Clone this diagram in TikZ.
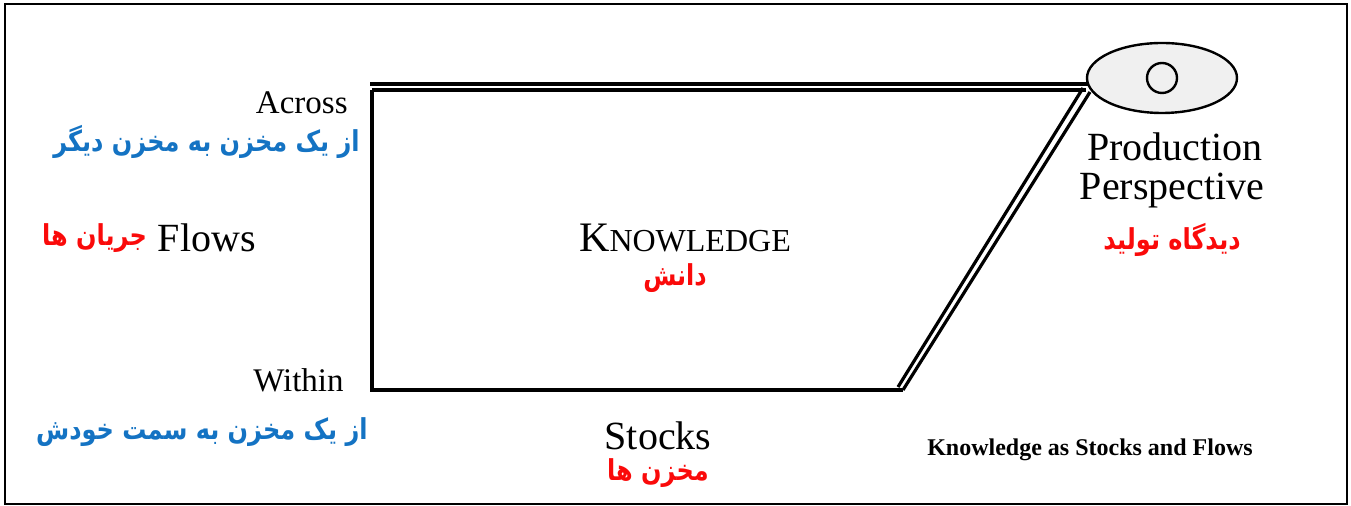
\documentclass[tikz,border=0pt]{standalone}
\usepackage{fontspec}
\setmainfont{Liberation Serif}
\newfontfamily\farsi[Script=Arabic]{DejaVu Sans}
\TeXXeTstate=1
\usetikzlibrary{calc, shapes.geometric}
\definecolor{fablue}{RGB}{20,115,195}
\definecolor{fared}{RGB}{250,10,10}
\definecolor{eggfill}{RGB}{240,240,240}
\newcommand\fatxt[1]{\scalebox{1}[1.2]{\beginR #1\endR}}

\begin{document}
\begin{tikzpicture}[
    x=0.5pt, y=-0.5pt, % pixel units, y downwards
    wire/.style={black, line width=1.6pt},
    engtext/.style={inner sep=0pt, font=\fontsize{16.5}{18}\selectfont},
    bigtext/.style={inner sep=0pt, font=\fontsize{20}{22}\selectfont},
    fatext/.style={inner sep=0pt, font=\farsi\bfseries\fontsize{12}{14}\selectfont}
]

    % Frame
    \useasboundingbox (0,0) rectangle (1351,506);
    \draw[line width=1.2pt] (5,4) rectangle (1347,504);

    % Corners of the stock/flow shape
    \coordinate (TL1) at (370,84);
    \coordinate (TR1) at (1088,84);
    \coordinate (TL2) at (372,90);
    \coordinate (TR2) at (1086,90);
    \coordinate (BL) at (372,390);
    \coordinate (BR1) at (898,387);
    \coordinate (BR2) at (903,390);
    \coordinate (DT1) at (1083,88);
    \coordinate (DT2) at (1090,92);

    % Draw the shape
    \draw[wire] (TL1) -- (TR1);
    \draw[wire] (TL2) -- (TR2);
    \draw[wire] (TL2) -- (BL) -- (BR2);
    \draw[wire] (BR1) -- (DT1);
    \draw[wire] (BR2) -- (DT2);

    % Production eye
    \node[draw, line width=1.2pt, fill=eggfill, ellipse, minimum width=75pt, minimum height=35pt, inner sep=0pt] (eye) at (1162,78) {};
    \draw[line width=1.2pt] (eye.center) circle (15);

    % Labels, left side
    \node[engtext, anchor=east] (across) at (348,103) {Across};
    \node[fatext, fablue, anchor=east] (acrossfa) at (360,142) {\fatxt{از یک مخزن به مخزن دیگر}};
    \node[bigtext, anchor=east] (flows) at (256,238) {Flows};
    \node[fatext, fared, anchor=east] (flowsfa) at ($(flows.west)+(-10,0)$) {\fatxt{جریان ها}};
    \node[engtext, anchor=east] (within) at (344,380) {Within};
    \node[fatext, fablue, anchor=east] (withinfa) at (368,432) {\fatxt{از یک مخزن به سمت خودش}};

    % Labels, middle
    \node[inner sep=0pt] (know) at (685,238) {{\fontsize{21}{22}\selectfont K}{\fontsize{16}{22}\selectfont NOWLEDGE}};
    \node[fatext, fared] (knowfa) at (675,278) {\fatxt{دانش}};
    \node[bigtext] (stocks) at (658,436) {Stocks};
    \node[fatext, fared] (stocksfa) at (658,473) {\fatxt{مخزن ها}};

    % Labels, right side
    \node[bigtext] (prod) at (1175,147) {Production};
    \node[bigtext] (persp) at (1172,191) {Perspective};
    \node[fatext, fared] (perspfa) at (1172,240) {\fatxt{دیدگاه تولید}};
    \node[inner sep=0pt, font=\bfseries\fontsize{12}{14}\selectfont] (title) at (1090,450) {Knowledge as Stocks and Flows};

\end{tikzpicture}
\end{document}
